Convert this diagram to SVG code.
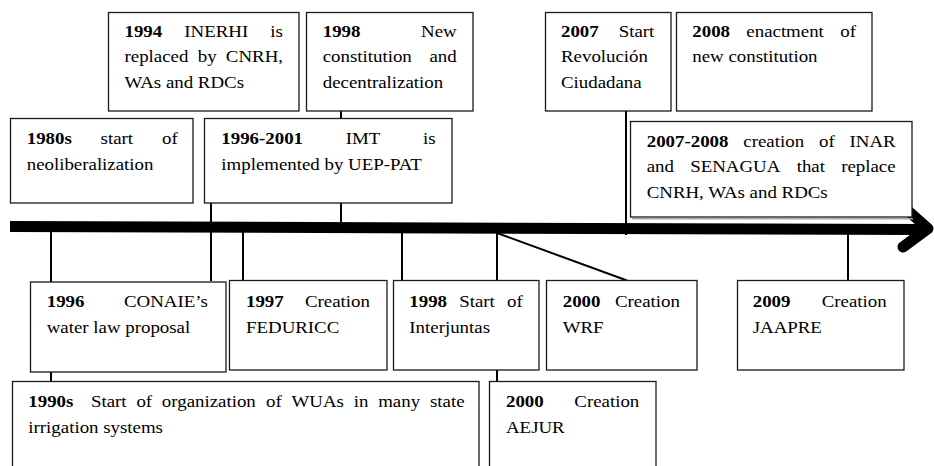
<svg xmlns="http://www.w3.org/2000/svg" width="934" height="466" viewBox="0 0 934 466">
<style>
.box{fill:#fff;stroke:#1a1a1a;stroke-width:1.3}
.t{font-size:16px;fill:#000}
.c{stroke:#000;stroke-width:2;fill:none}
.bar{stroke:#000;stroke-width:11;fill:none}
</style>
<rect x="0" y="0" width="934" height="466" fill="#fff"/>
<g id="connectors">
<line class="c" x1="51" y1="231" x2="51" y2="282"/>
<line class="c" x1="51" y1="372" x2="51" y2="381"/>
<line class="c" x1="211" y1="203" x2="211" y2="281"/>
<line class="c" x1="243" y1="231" x2="243" y2="280"/>
<line class="c" x1="341" y1="111" x2="341" y2="118"/>
<line class="c" x1="341" y1="203" x2="341" y2="227"/>
<line class="c" x1="402" y1="231" x2="402" y2="280"/>
<line class="c" x1="497" y1="231" x2="497" y2="280"/>
<line class="c" x1="497" y1="370" x2="497" y2="381"/>
<line class="c" x1="497" y1="233" x2="627" y2="280.5"/>
<line class="c" x1="626" y1="111" x2="626" y2="235"/>
<line class="c" x1="848" y1="232" x2="848" y2="280"/>
</g>
<g id="timeline">
<line class="bar" x1="10" y1="226.5" x2="920" y2="229.5"/>
<polyline class="bar" points="906,209 928,228.5 903,247" stroke-linecap="round" stroke-linejoin="round"/>
</g>
<g id="n1994">
<rect class="box" x="108.5" y="12.5" width="190.5" height="98.5"/>
<g transform="translate(124.5,36.7) scale(1.18,1)"><text class="t" font-family="Liberation Serif" font-weight="bold" x="0">1994</text><text class="t" font-family="Liberation Serif" x="50.7">INERHI</text><text class="t" font-family="Liberation Serif" x="123.6">is</text></g>
<g transform="translate(124.5,62.3) scale(1.18,1)"><text class="t" font-family="Liberation Serif" x="0">replaced</text><text class="t" font-family="Liberation Serif" x="62.1">by</text><text class="t" font-family="Liberation Serif" x="85.9">CNRH,</text></g>
<g transform="translate(124.5,88) scale(1.18,1)"><text class="t" font-family="Liberation Serif" x="0">WAs and RDCs</text></g>
</g>
<g id="n1998a">
<rect class="box" x="306.5" y="12.5" width="166.5" height="98.5"/>
<g transform="translate(322.7,36.7) scale(1.18,1)"><text class="t" font-family="Liberation Serif" font-weight="bold" x="0">1998</text><text class="t" font-family="Liberation Serif" x="83.4">New</text></g>
<g transform="translate(322.7,62.3) scale(1.18,1)"><text class="t" font-family="Liberation Serif" x="0">constitution</text><text class="t" font-family="Liberation Serif" x="90.5">and</text></g>
<g transform="translate(322.7,88) scale(1.18,1)"><text class="t" font-family="Liberation Serif" x="0">decentralization</text></g>
</g>
<g id="n2007">
<rect class="box" x="545.5" y="12.5" width="125.5" height="98.5"/>
<g transform="translate(561,36.7) scale(1.18,1)"><text class="t" font-family="Liberation Serif" font-weight="bold" x="0">2007</text><text class="t" font-family="Liberation Serif" x="48.9">Start</text></g>
<g transform="translate(561,62.3) scale(1.18,1)"><text class="t" font-family="Liberation Serif" x="0">Revolución</text></g>
<g transform="translate(561,88) scale(1.18,1)"><text class="t" font-family="Liberation Serif" x="0">Ciudadana</text></g>
</g>
<g id="n2008">
<rect class="box" x="676.5" y="12.5" width="195.5" height="98.5"/>
<g transform="translate(692.3,36.7) scale(1.18,1)"><text class="t" font-family="Liberation Serif" font-weight="bold" x="0">2008</text><text class="t" font-family="Liberation Serif" x="45.8">enactment</text><text class="t" font-family="Liberation Serif" x="125.4">of</text></g>
<g transform="translate(692.3,62.3) scale(1.18,1)"><text class="t" font-family="Liberation Serif" x="0">new constitution</text></g>
</g>
<g id="n1980s">
<rect class="box" x="10.5" y="118.5" width="182.5" height="84.5"/>
<g transform="translate(26.7,144) scale(1.18,1)"><text class="t" font-family="Liberation Serif" font-weight="bold" x="0">1980s</text><text class="t" font-family="Liberation Serif" x="62.6">start</text><text class="t" font-family="Liberation Serif" x="114.7">of</text></g>
<g transform="translate(26.7,170) scale(1.18,1)"><text class="t" font-family="Liberation Serif" x="0">neoliberalization</text></g>
</g>
<g id="n1996-2001">
<rect class="box" x="204.5" y="118.5" width="247.5" height="84.5"/>
<g transform="translate(221.3,144) scale(1.18,1)"><text class="t" font-family="Liberation Serif" font-weight="bold" x="0">1996-2001</text><text class="t" font-family="Liberation Serif" x="105.5">IMT</text><text class="t" font-family="Liberation Serif" x="171">is</text></g>
<g transform="translate(221.3,170) scale(1.18,1)"><text class="t" font-family="Liberation Serif" x="0">implemented by UEP-PAT</text></g>
</g>
<g id="n2007-2008">
<line x1="632" y1="218.8" x2="913" y2="218.8" stroke="#aaa" stroke-width="1.5"/>
<rect class="box" x="630.5" y="121.5" width="281.5" height="95.5"/>
<g transform="translate(646.7,146.7) scale(1.18,1)"><text class="t" font-family="Liberation Serif" font-weight="bold" x="0">2007-2008</text><text class="t" font-family="Liberation Serif" x="81.9">creation</text><text class="t" font-family="Liberation Serif" x="146">of</text><text class="t" font-family="Liberation Serif" x="171.9">INAR</text></g>
<g transform="translate(646.7,172.3) scale(1.18,1)"><text class="t" font-family="Liberation Serif" x="0">and</text><text class="t" font-family="Liberation Serif" x="36.9">SENAGUA</text><text class="t" font-family="Liberation Serif" x="127.1">that</text><text class="t" font-family="Liberation Serif" x="164.8">replace</text></g>
<g transform="translate(646.7,198) scale(1.18,1)"><text class="t" font-family="Liberation Serif" x="0">CNRH, WAs and RDCs</text></g>
</g>
<g id="n1996">
<rect class="box" x="30.5" y="282" width="195.5" height="90"/>
<g transform="translate(46.7,307.3) scale(1.18,1)"><text class="t" font-family="Liberation Serif" font-weight="bold" x="0">1996</text><text class="t" font-family="Liberation Serif" x="65.5">CONAIE’s</text></g>
<g transform="translate(46.7,333.3) scale(1.18,1)"><text class="t" font-family="Liberation Serif" x="0">water law proposal</text></g>
</g>
<g id="n1997">
<rect class="box" x="229.5" y="280.5" width="157.5" height="89.5"/>
<g transform="translate(246,307.3) scale(1.18,1)"><text class="t" font-family="Liberation Serif" font-weight="bold" x="0">1997</text><text class="t" font-family="Liberation Serif" x="50">Creation</text></g>
<g transform="translate(246,333.3) scale(1.18,1)"><text class="t" font-family="Liberation Serif" x="0">FEDURICC</text></g>
</g>
<g id="n1998b">
<rect class="box" x="393.5" y="280.5" width="145.5" height="89.5"/>
<g transform="translate(409.3,307.3) scale(1.18,1)"><text class="t" font-family="Liberation Serif" font-weight="bold" x="0">1998</text><text class="t" font-family="Liberation Serif" x="42.3">Start</text><text class="t" font-family="Liberation Serif" x="82.8">of</text></g>
<g transform="translate(409.3,333.3) scale(1.18,1)"><text class="t" font-family="Liberation Serif" x="0">Interjuntas</text></g>
</g>
<g id="n2000wrf">
<rect class="box" x="546.5" y="280.5" width="150.5" height="89.5"/>
<g transform="translate(562.7,307.3) scale(1.18,1)"><text class="t" font-family="Liberation Serif" font-weight="bold" x="0">2000</text><text class="t" font-family="Liberation Serif" x="44.3">Creation</text></g>
<g transform="translate(562.7,333.3) scale(1.18,1)"><text class="t" font-family="Liberation Serif" x="0">WRF</text></g>
</g>
<g id="n2009">
<rect class="box" x="737.5" y="280.5" width="166.5" height="89.5"/>
<g transform="translate(752.7,307.3) scale(1.18,1)"><text class="t" font-family="Liberation Serif" font-weight="bold" x="0">2009</text><text class="t" font-family="Liberation Serif" x="58.5">Creation</text></g>
<g transform="translate(752.7,333.3) scale(1.18,1)"><text class="t" font-family="Liberation Serif" x="0">JAAPRE</text></g>
</g>
<g id="n1990s">
<rect class="box" x="12.5" y="381.5" width="466.5" height="95"/>
<g transform="translate(28.3,406.7) scale(1.18,1)"><text class="t" font-family="Liberation Serif" font-weight="bold" x="0">1990s</text><text class="t" font-family="Liberation Serif" x="53.1">Start</text><text class="t" font-family="Liberation Serif" x="91.6">of</text><text class="t" font-family="Liberation Serif" x="113.2">organization</text><text class="t" font-family="Liberation Serif" x="201.5">of</text><text class="t" font-family="Liberation Serif" x="223.1">WUAs</text><text class="t" font-family="Liberation Serif" x="275.8">in</text><text class="t" font-family="Liberation Serif" x="296.5">many</text><text class="t" font-family="Liberation Serif" x="340.4">state</text></g>
<g transform="translate(28.3,432.7) scale(1.18,1)"><text class="t" font-family="Liberation Serif" x="0">irrigation systems</text></g>
</g>
<g id="n2000aejur">
<rect class="box" x="489.5" y="381.5" width="166.5" height="95"/>
<g transform="translate(506,406.7) scale(1.18,1)"><text class="t" font-family="Liberation Serif" font-weight="bold" x="0">2000</text><text class="t" font-family="Liberation Serif" x="57.9">Creation</text></g>
<g transform="translate(506,432.7) scale(1.18,1)"><text class="t" font-family="Liberation Serif" x="0">AEJUR</text></g>
</g>
</svg>
